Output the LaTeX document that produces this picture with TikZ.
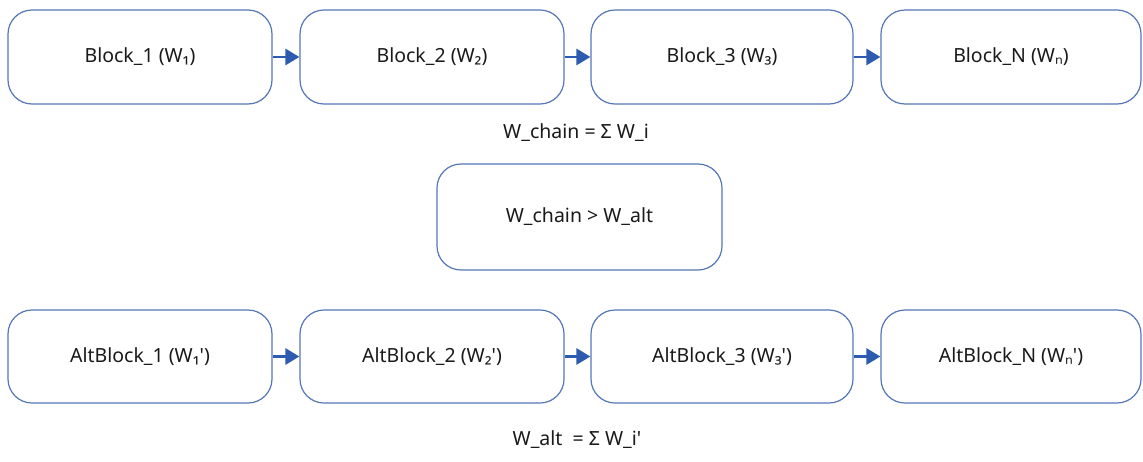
\documentclass[tikz,border=0pt]{standalone}
\usepackage{fontspec}
\setmainfont{Noto Sans}
\usetikzlibrary{arrows.meta}
\definecolor{boxline}{HTML}{5577B8}
\definecolor{arrowblue}{HTML}{2D5BB0}
\definecolor{ink}{HTML}{1A1A1A}
\newcommand{\sq}{\textquotesingle}
\tikzset{
  blockbox/.style={draw=boxline, line width=1.2pt, rounded corners=24pt, fill=white,
    minimum width=#1, minimum height=94pt, inner sep=0pt, font=\fontsize{19.5}{23}\selectfont, text=ink},
  blockbox/.default=264pt,
  flow/.style={draw=arrowblue, line width=2.8pt, -{Triangle[length=14pt,width=16pt]}},
  formula/.style={font=\fontsize{19.5}{23}\selectfont, text=ink, inner sep=0pt}
}
\begin{document}
\begin{tikzpicture}[x=1pt,y=-1pt]
\useasboundingbox (0,0) rectangle (1143,461);
\fill[white] (0,0) rectangle (1143,461);
% chain of blocks
\node[blockbox=264pt] (b1) at (140,57) {Block\_1 (W₁)};
\node[blockbox=264pt] (b2) at (432,57) {Block\_2 (W₂)};
\node[blockbox=262pt] (b3) at (722,57) {Block\_3 (W₃)};
\node[blockbox=260pt] (bn) at (1011,57) {Block\_N (Wₙ)};
\draw[flow] (b1) -- (b2);
\draw[flow] (b2) -- (b3);
\draw[flow] (b3) -- (bn);
\node[formula] (sumchain) at (576,133) {W\_chain = Σ W\_i};
% comparison
\node[blockbox=285pt, minimum height=106pt] (cmp) at (579.5,217) {W\_chain > W\_alt};
% alternative chain
\node[blockbox=264pt, minimum height=93pt] (a1) at (140,356.5) {AltBlock\_1 (W₁\sq)};
\node[blockbox=264pt, minimum height=93pt] (a2) at (432,356.5) {AltBlock\_2 (W₂\sq)};
\node[blockbox=262pt, minimum height=93pt] (a3) at (722,356.5) {AltBlock\_3 (W₃\sq)};
\node[blockbox=260pt, minimum height=93pt] (an) at (1011,356.5) {AltBlock\_N (Wₙ\sq)};
\draw[flow] (a1) -- (a2);
\draw[flow] (a2) -- (a3);
\draw[flow] (a3) -- (an);
\node[formula] (sumalt) at (577,440) {W\_alt\ \ = Σ W\_i\sq};
\end{tikzpicture}
\end{document}
